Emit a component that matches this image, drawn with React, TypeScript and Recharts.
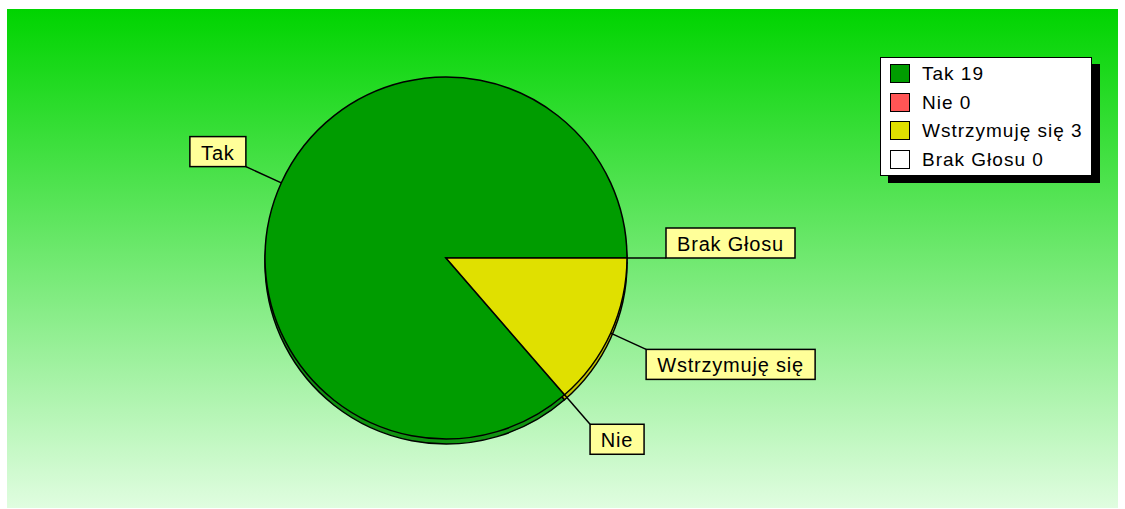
import React from 'react';
import { PieChart, Pie, Cell, Legend } from 'recharts';

const categories = ['Tak', 'Nie', 'Wstrzymuję się', 'Brak Głosu'];
const votes = [19, 0, 3, 0];
const colors = ['#009c00', '#ff5555', '#e0e000', '#ffffff'];
const edgeColors = ['#119311', '#d04040', '#c4c400', '#dddddd'];

const data = categories.map((name, i) => ({ name, value: votes[i] }));

const FONT = "'Liberation Sans', Arial, sans-serif";
const RAD = Math.PI / 180;

let ctx: CanvasRenderingContext2D | null = null;
function measure(text: string, size: number, ls: number): number {
  if (!ctx) ctx = document.createElement('canvas').getContext('2d');
  if (!ctx) return text.length * size * 0.55;
  ctx.font = `${size}px 'Liberation Sans'`;
  return ctx.measureText(text).width + ls * text.length;
}

const LABEL_SIZE = 20;
const LABEL_LS = 0.8;

const renderLabel = (props: any) => {
  const { cx, cy, midAngle, outerRadius, name } = props;
  const cos = Math.cos(-midAngle * RAD);
  const sin = Math.sin(-midAngle * RAD);
  const sx = cx + outerRadius * cos;
  const sy = cy + outerRadius * sin;
  const ex = cx + (outerRadius + 39) * cos;
  const ey = cy + (outerRadius + 39) * sin;
  const w = Math.round(measure(name, LABEL_SIZE, LABEL_LS) + 22);
  const h = 30;
  const bx = cos >= -1e-6 ? ex : ex - w;
  const by = sin > 0.01 ? ey : ey - h;
  return (
    <g key={`lbl-${name}`}>
      <line x1={sx} y1={sy} x2={ex} y2={ey} stroke="#000" strokeWidth={1.5} />
      <rect x={bx} y={by} width={w} height={h} fill="#ffff99" stroke="#000" strokeWidth={1.5} />
      <text
        x={bx + w / 2}
        y={by + h / 2 + 1}
        textAnchor="middle"
        dominantBaseline="central"
        fontFamily={FONT}
        fontSize={LABEL_SIZE}
        letterSpacing={LABEL_LS}
        fill="#000"
      >
        {name}
      </text>
    </g>
  );
};

const renderLegend = () => {
  const W = 212;
  const H = 119;
  return (
    <div style={{ position: 'relative', width: W + 8, height: H + 7 }}>
      <div style={{ position: 'absolute', left: 8, top: 7, width: W, height: H, background: '#000' }} />
      <div
        style={{
          position: 'absolute',
          left: 0,
          top: 0,
          width: W,
          height: H,
          background: '#fff',
          border: '1.5px solid #000',
          boxSizing: 'border-box',
        }}
      >
        {categories.map((name, i) => {
          const center = 16 + i * 28.7;
          return (
            <React.Fragment key={name}>
              <div
                style={{
                  position: 'absolute',
                  left: 9,
                  top: center - 10,
                  width: 20,
                  height: 19,
                  background: colors[i],
                  border: '1.5px solid #000',
                  boxSizing: 'border-box',
                }}
              />
              <div
                style={{
                  position: 'absolute',
                  left: 41,
                  top: center - 12,
                  height: 24,
                  lineHeight: '24px',
                  fontFamily: FONT,
                  fontSize: 19,
                  letterSpacing: 1,
                  color: '#000',
                  whiteSpace: 'nowrap',
                }}
              >
                {`${name} ${votes[i]}`}
              </div>
            </React.Fragment>
          );
        })}
      </div>
    </div>
  );
};

export default function App() {
  const cx = 439;
  const cy = 249;
  const r = 181;
  return (
    <div style={{ position: 'fixed', left: 0, top: 0, width: 1125, height: 509, background: '#fff', overflow: 'hidden' }}>
      <div
        style={{
          position: 'absolute',
          left: 7,
          top: 9,
          width: 1111,
          height: 499,
          background: 'linear-gradient(to bottom, #00d400 0%, #e0fde0 100%)',
        }}
      >
        <PieChart width={1111} height={499} margin={{ top: 0, right: 0, bottom: 0, left: 0 }}>
          <Pie
            data={data}
            dataKey="value"
            nameKey="name"
            cx={cx}
            cy={cy + 5}
            outerRadius={r}
            startAngle={0}
            endAngle={360}
            stroke="#000"
            strokeWidth={1.5}
            label={false}
            labelLine={false}
            legendType="none"
            isAnimationActive={false}
          >
            {data.map((d, i) => (
              <Cell key={`e-${i}`} fill={edgeColors[i]} />
            ))}
          </Pie>
          <Pie
            data={data}
            dataKey="value"
            nameKey="name"
            cx={cx}
            cy={cy}
            outerRadius={r}
            startAngle={0}
            endAngle={360}
            stroke="#000"
            strokeWidth={1.5}
            label={renderLabel}
            labelLine={false}
            isAnimationActive={false}
          >
            {data.map((d, i) => (
              <Cell key={`c-${i}`} fill={colors[i]} />
            ))}
          </Pie>
          <Legend
            layout="vertical"
            align="right"
            verticalAlign="top"
            content={renderLegend}
            wrapperStyle={{ left: 873, top: 48, right: 'auto', width: 'auto' }}
          />
        </PieChart>
      </div>
    </div>
  );
}
